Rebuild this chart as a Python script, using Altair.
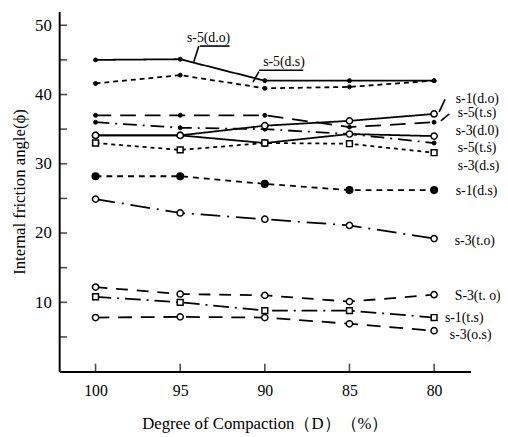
import altair as alt
import pandas as pd

# ---------------- data ----------------
compaction = [100, 95, 90, 85, 80]

series_ids = ["s5do", "s5ds", "s5ts", "s5tsd", "s1do", "s3d0",
              "s3ds", "s1ds", "s3to", "S3to", "s1ts", "s3os"]

s5_do = [45.0, 45.1, 42.0, 42.0, 42.0]
s5_ds = [41.6, 42.8, 40.9, 41.1, 42.0]
s5_ts = [37.0, 37.0, 37.0, 35.3, 36.0]
s5_tsd = [36.0, 35.2, 35.0, 34.3, 33.0]
s1_do = [34.1, 34.1, 35.5, 36.2, 37.2]
s3_d0 = [34.1, 34.1, 33.0, 34.3, 34.0]
s3_ds = [33.0, 32.0, 33.0, 32.9, 31.6]
s1_ds = [28.2, 28.2, 27.1, 26.2, 26.2]
s3_to = [24.9, 22.9, 22.0, 21.1, 19.2]
S3_to = [12.2, 11.2, 11.0, 10.1, 11.1]
s1_ts = [10.8, 10.0, 8.8, 8.8, 7.8]
s3_os = [7.8, 7.9, 7.8, 6.9, 5.9]

series_values = [s5_do, s5_ds, s5_ts, s5_tsd, s1_do, s3_d0,
                 s3_ds, s1_ds, s3_to, S3_to, s1_ts, s3_os]

label_texts = ["s-5(d.o)", "s-5(d.s)", "s-1(d.o)", "s-5(t.s)", "s-3(d.0)",
               "s-5(t.ṡ)", "s-3(d.s)", "s-1(d.s)", "s-3(t.o)", "S-3(t. o)",
               "s-1(t.s)", "s-3(o.s)"]
label_x = [94.6, 90.1, 78.72, 78.6, 78.72, 78.6, 78.6, 78.72, 78.78, 78.78, 79.36, 79.07]
label_y = [48.2, 44.7, 39.4, 37.3, 34.7, 32.2, 29.7, 26.1, 18.8, 10.9, 7.7, 5.3]

# leader / underline segments (data coordinates)
lead_x = [93.84, 93.9, 90.35, 90.7, 79.7, 79.6]
lead_y = [47.0, 47.0, 43.5, 41.8, 37.5, 36.2]
lead_x2 = [92.09, 94.2, 87.73, 90.35, 79.35, 79.1]
lead_y2 = [47.0, 44.7, 43.5, 43.3, 39.3, 37.2]

y_ticks = [5, 10, 15, 20, 25, 30, 35, 40, 45, 50]
y_labels = [10, 20, 30, 40, 50]

# ---------------- styles ----------------
dashes = {
    "s5do": [1, 0], "s5ds": [5, 4], "s5ts": [16, 9], "s5tsd": [14, 6, 2, 6],
    "s1do": [1, 0], "s3d0": [1, 0], "s3ds": [4, 4], "s1ds": [6, 5],
    "s3to": [20, 7, 2, 7], "S3to": [12, 9], "s1ts": [16, 6, 2, 6], "s3os": [14, 9],
}
small_dots = ["s5do", "s5ds", "s5ts", "s5tsd"]
big_dots = ["s1ds"]
open_circles = ["s1do", "s3d0", "s3to", "S3to", "s3os"]
open_squares = ["s3ds", "s1ts"]

FONT = "'Liberation Serif', 'DejaVu Serif', serif"

rows = []
for sid, vals in zip(series_ids, series_values):
    for d, v in zip(compaction, vals):
        rows.append({"series": sid, "D": d, "phi": v})
df = pd.DataFrame(rows)

labels_df = pd.DataFrame({"text": label_texts, "x": label_x, "y": label_y})
lead_df = pd.DataFrame({"x": lead_x, "y": lead_y, "x2": lead_x2, "y2": lead_y2})
yt_df = pd.DataFrame({"v": y_ticks})
xt_df = pd.DataFrame({"v": compaction})

xscale = alt.Scale(domain=[77.85, 102.15], reverse=True, nice=False, zero=False)
yscale = alt.Scale(domain=[0, 52], nice=False, zero=False)

xaxis = alt.Axis(values=compaction, ticks=False, tickSize=0, grid=False,
                 labelFont=FONT, labelFontSize=16, labelColor="black", labelPadding=11,
                 domainColor="black", domainWidth=2,
                 title="Degree of Compaction（D）（%）", titleFont=FONT,
                 titleFontSize=17, titleFontWeight="normal", titleColor="black",
                 titlePadding=18)
yaxis = alt.Axis(values=y_labels, ticks=False, tickSize=0, grid=False,
                 labelFont=FONT, labelFontSize=17, labelColor="black", labelPadding=8,
                 domainColor="black", domainWidth=2,
                 title="Internal friction angle(ϕ)", titleFont=FONT,
                 titleFontSize=17, titleFontWeight="normal", titleColor="black",
                 titlePadding=6)

X = alt.X("D:Q", scale=xscale, axis=xaxis)
Y = alt.Y("phi:Q", scale=yscale, axis=yaxis)

base = alt.Chart(df)

lines = base.mark_line(color="black", strokeWidth=1.8).encode(
    x=X, y=Y, detail="series:N",
    strokeDash=alt.StrokeDash("series:N",
                              scale=alt.Scale(domain=series_ids,
                                              range=[dashes[s] for s in series_ids]),
                              legend=None),
)

def pts(group, shape, fill, size, sw=1.5):
    return base.transform_filter(
        alt.FieldOneOfPredicate(field="series", oneOf=group)
    ).mark_point(shape=shape, fill=fill, stroke="black", strokeWidth=sw,
                 size=size, opacity=1, fillOpacity=1).encode(
        x=alt.X("D:Q", scale=xscale), y=alt.Y("phi:Q", scale=yscale))

p1 = pts(small_dots, "circle", "black", 16, 1)
p2 = pts(big_dots, "circle", "black", 45)
p3 = pts(open_circles, "circle", "white", 40)
p4 = pts(open_squares, "square", "white", 35)

texts = alt.Chart(labels_df).mark_text(align="left", baseline="middle", font=FONT,
                                        fontSize=14, color="black").encode(
    x=alt.X("x:Q", scale=xscale), y=alt.Y("y:Q", scale=yscale), text="text:N")

leads = alt.Chart(lead_df).mark_rule(color="black", strokeWidth=1.6).encode(
    x=alt.X("x:Q", scale=xscale), y=alt.Y("y:Q", scale=yscale),
    x2="x2:Q", y2="y2:Q")

yticks = alt.Chart(yt_df).mark_tick(orient="horizontal", color="black",
                                    thickness=1.6, size=8).encode(
    y=alt.Y("v:Q", scale=yscale), x=alt.value(4))

xticks = alt.Chart(xt_df).mark_tick(orient="vertical", color="black",
                                    thickness=1.6, size=8).encode(
    x=alt.X("v:Q", scale=xscale), y=alt.value(362))

chart = alt.layer(lines, p1, p2, p3, p4, leads, texts, yticks, xticks).properties(
    width=418, height=366,
    autosize=alt.AutoSizeParams(type="none"),
    padding={"left": 52, "top": 0, "right": 30, "bottom": 62},
    background="white",
).configure_view(stroke=None)

chart.save("out.html", embed_options={"renderer": "svg", "actions": False})
